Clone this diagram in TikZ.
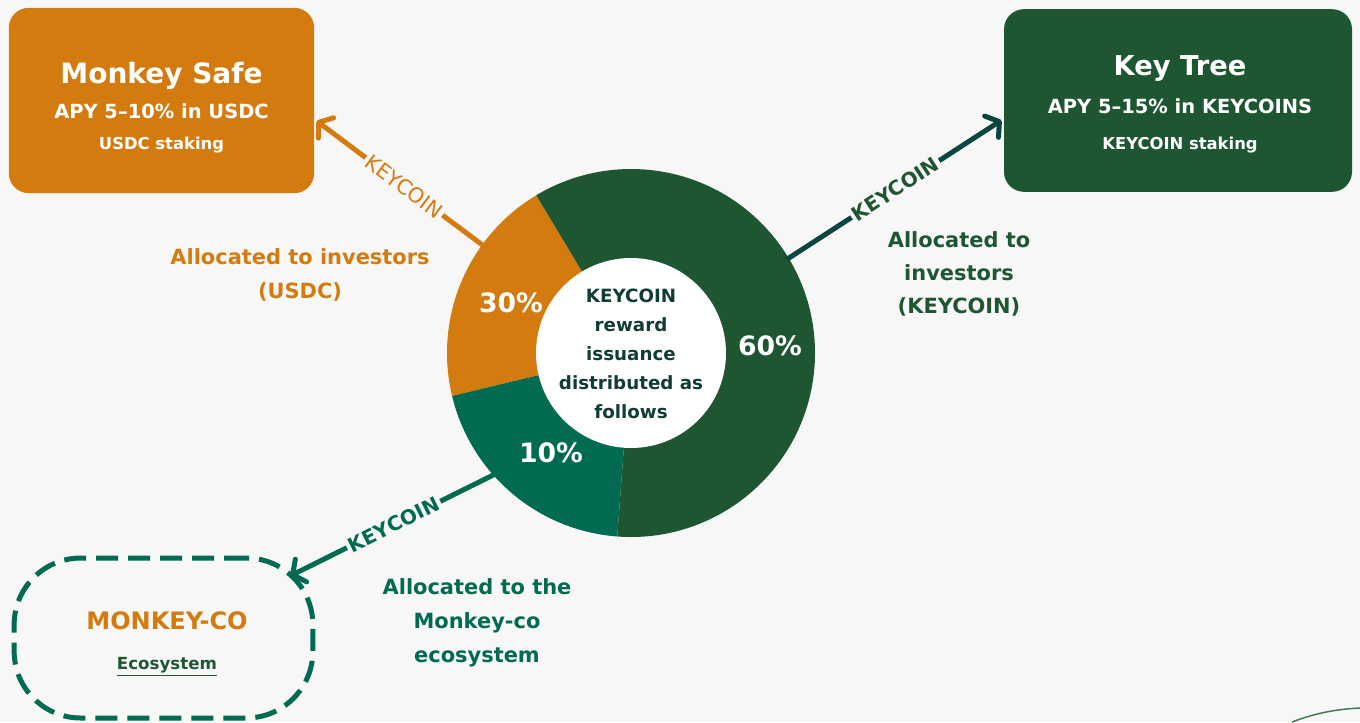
\documentclass[tikz,border=0pt]{standalone}
\usepackage{fontspec}
\setmainfont{DejaVu Sans}
\usetikzlibrary{arrows.meta}
\definecolor{paper}{HTML}{F7F7F7}
\definecolor{safeorange}{HTML}{D47B0F}
\definecolor{treegreen}{HTML}{1F5632}
\definecolor{ecoteal}{HTML}{006B50}
\definecolor{hubink}{HTML}{0F3D36}
\definecolor{treearrow}{HTML}{0B4540}
\definecolor{edgegreen}{HTML}{3C7A50}

\begin{document}
\begin{tikzpicture}[x=0.75pt,y=-0.75pt,
    stakebox/.style={rectangle,rounded corners=15pt,inner sep=0pt},
    boxtext/.style={text=white,align=center},
    flow/.style={line width=3.75pt,-{Straight Barb[length=7pt,width=19pt,round]},shorten >=2pt},
    coin/.style={sloped,fill=paper,inner sep=2pt,font=\bfseries\fontsize{15}{15}\selectfont},
    share/.style={text=white,font=\bfseries\fontsize{20}{20}\selectfont},
    note/.style={align=center,font=\bfseries\fontsize{15.7}{25.5}\selectfont}]
    \fill[paper] (0,0) rectangle (1360,722);
    \useasboundingbox (0,0) rectangle (1360,722);

    % staking boxes
    \node[stakebox,fill=safeorange,minimum width=229pt,minimum height=139pt] (safe) at (161.5,100.5) {};
    \node[boxtext,font=\bfseries\fontsize{14}{23.25}\selectfont] (safetext) at (161.5,108)
        {{\fontsize{21}{21}\selectfont Monkey Safe}\\[3pt]
         {\fontsize{14.6}{14.6}\selectfont APY 5–10\% in USDC}\\
         {\fontsize{12.3}{12.3}\selectfont USDC staking}};
    \node[stakebox,fill=treegreen,minimum width=261pt,minimum height=137pt] (tree) at (1178,100.5) {};
    \node[boxtext,font=\bfseries\fontsize{14}{27}\selectfont] (treetext) at (1180,104)
        {{\fontsize{20.5}{20.5}\selectfont Key Tree}\\[1.5pt]
         {\fontsize{14.6}{14.6}\selectfont APY 5–15\% in KEYCOINS}\\
         {\fontsize{12.3}{12.3}\selectfont KEYCOIN staking}};
    \node[stakebox,draw=ecoteal,line width=3.75pt,dash pattern=on 16.5pt off 7.5pt,
        rounded corners=50pt,minimum width=224pt,minimum height=120pt] (eco) at (163.5,638) {};
    \node[align=center,font=\bfseries\fontsize{14}{30}\selectfont] (ecotext) at (167,644)
        {{\color{safeorange}\fontsize{18}{18}\selectfont MONKEY-CO}\\
         {\color{treegreen}\fontsize{12.5}{12.5}\selectfont\underline{Ecosystem}}};

    % ring of shares
    \coordinate (core) at (631,353);
    \foreach \from/\to/\col in {239/166.5/safeorange,166.5/94.3/ecoteal,94.3/-121/treegreen}
        \fill[\col] (core) -- ++(\from:184) arc[start angle=\from,end angle=\to,radius=184] -- cycle;
    \fill[white] (core) circle[radius=95];
    \node[align=center,text=hubink,font=\bfseries\fontsize{13.7}{21.75}\selectfont] (hub) at (631,354)
        {KEYCOIN\\reward\\issuance\\distributed as\\follows};
    \node[share] (usdcshare) at (511,303) {30\%};
    \node[share] (treeshare) at (770,346) {60\%};
    \node[share] (ecoshare) at (551,453) {10\%};

    % flows
    \coordinate (ecotip) at (288,577);
    \draw[flow,safeorange] ([shift={(-144:182)}]core) -- node[coin,text=safeorange,font=\fontsize{15.5}{15.5}\selectfont,pos=0.47] {KEYCOIN} (safe.-7);
    \draw[flow,treearrow] ([shift={(-31:182)}]core) -- node[coin,text=treegreen,pos=0.5] {KEYCOIN} (tree.186);
    \draw[flow,ecoteal] ([shift={(138.3:182)}]core) -- node[coin,text=ecoteal,pos=0.49] {KEYCOIN} (ecotip);

    \node[note,text=safeorange] (usdcnote) at (300,275) {Allocated to investors\\(USDC)};
    \node[note,text=treegreen,font=\bfseries\fontsize{15.7}{24.75}\selectfont] (treenote) at (959,274) {Allocated to\\investors\\(KEYCOIN)};
    \node[note,text=ecoteal] (econote) at (477,623) {Allocated to the\\Monkey-co\\ecosystem};

    \draw[edgegreen,line width=1.1pt] (1292,722) .. controls (1318,712) and (1340,709) .. (1360,708);
\end{tikzpicture}
\end{document}
